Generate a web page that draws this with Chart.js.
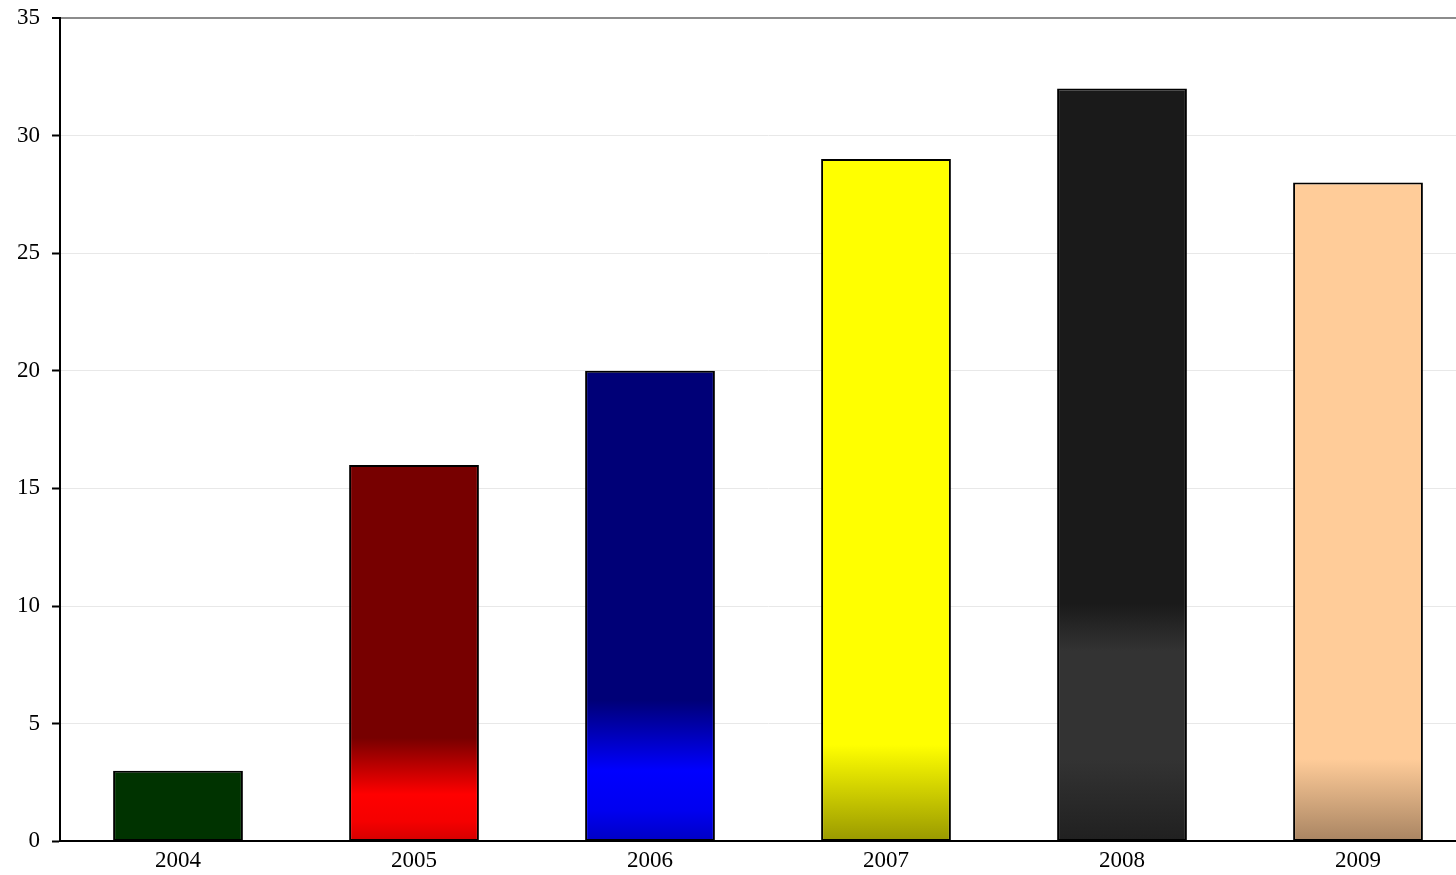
<!DOCTYPE html>
<html lang="en">
<head>
  <meta charset="UTF-8">
  <title>Yearly totals</title>
  <style>
    html, body {
      margin: 0;
      padding: 0;
      background: #fff;
      overflow: hidden;
    }
    .wrap {
      width: 1480px;
      height: 889px;
      margin-top: -8px;
      position: relative;
    }
  </style>
</head>
<body>
  <div class="wrap">
    <canvas id="yearChart"></canvas>
  </div>
  <script src="https://cdn.jsdelivr.net/npm/chart.js"></script>
  <script>
    // data
    const years = ['2004', '2005', '2006', '2007', '2008', '2009'];
    const totals = [3, 16, 20, 29, 32, 28];
    const yMax = 35;
    const yStep = 5;

    // fill for each bar: [value where the colour sits, colour], top to bottom
    const barFills = [
      [[35, '#003300'], [0, '#003300']],
      [[4.4, '#770000'], [2.0, '#ff0000'], [0.85, '#f50000'], [0, '#d40000']],
      [[6.0, '#000077'], [3.0, '#0000ff'], [1.3, '#0000f0'], [0, '#0000c4']],
      [[4.1, '#ffff00'], [0, '#999900']],
      [[10.1, '#1a1a1a'], [8.1, '#333333'], [3.5, '#333333'], [0, '#202020']],
      [[3.5, '#ffcc99'], [0, '#a88462']]
    ];

    const fillFor = (ctx) => {
      const chart = ctx.chart;
      const area = chart.chartArea;
      const stops = barFills[ctx.dataIndex];
      if (!area || !stops) return stops ? stops[0][1] : '#888';
      const y = chart.scales.y;
      const top = y.getPixelForValue(yMax);
      const bottom = y.getPixelForValue(0);
      const g = chart.ctx.createLinearGradient(0, top, 0, bottom);
      g.addColorStop(0, stops[0][1]);
      stops.forEach(([v, c]) => {
        const off = (y.getPixelForValue(v) - top) / (bottom - top);
        g.addColorStop(Math.min(1, Math.max(0, off)), c);
      });
      return g;
    };

    const serif = { family: "'Liberation Serif', 'Times New Roman', serif", size: 23 };

    new Chart(document.getElementById('yearChart'), {
      type: 'bar',
      data: {
        labels: years,
        datasets: [{
          data: totals,
          backgroundColor: fillFor,
          borderColor: '#000',
          borderWidth: 2,
          borderSkipped: false,
          barPercentage: 0.55,
          categoryPercentage: 1
        }]
      },
      options: {
        responsive: true,
        maintainAspectRatio: false,
        animation: false,
        layout: { padding: { top: 2, right: 4, left: 5, bottom: 0 } },
        plugins: {
          legend: { display: false },
          tooltip: { enabled: false }
        },
        scales: {
          x: {
            grid: { display: false, drawTicks: false },
            border: { color: '#000', width: 2 },
            ticks: { color: '#000', font: serif, padding: 6 }
          },
          y: {
            min: 0,
            max: yMax,
            ticks: { stepSize: yStep, color: '#000', font: serif, padding: 12 },
            border: { color: '#000', width: 2 },
            grid: {
              color: (c) => c.tick && c.tick.value === yMax ? '#8c8c8c' : '#e8e8e8',
              lineWidth: (c) => c.tick && c.tick.value === yMax ? 2 : 1,
              tickColor: '#000',
              tickLength: 8,
              tickWidth: 2
            }
          }
        }
      }
    });
  </script>
</body>
</html>
